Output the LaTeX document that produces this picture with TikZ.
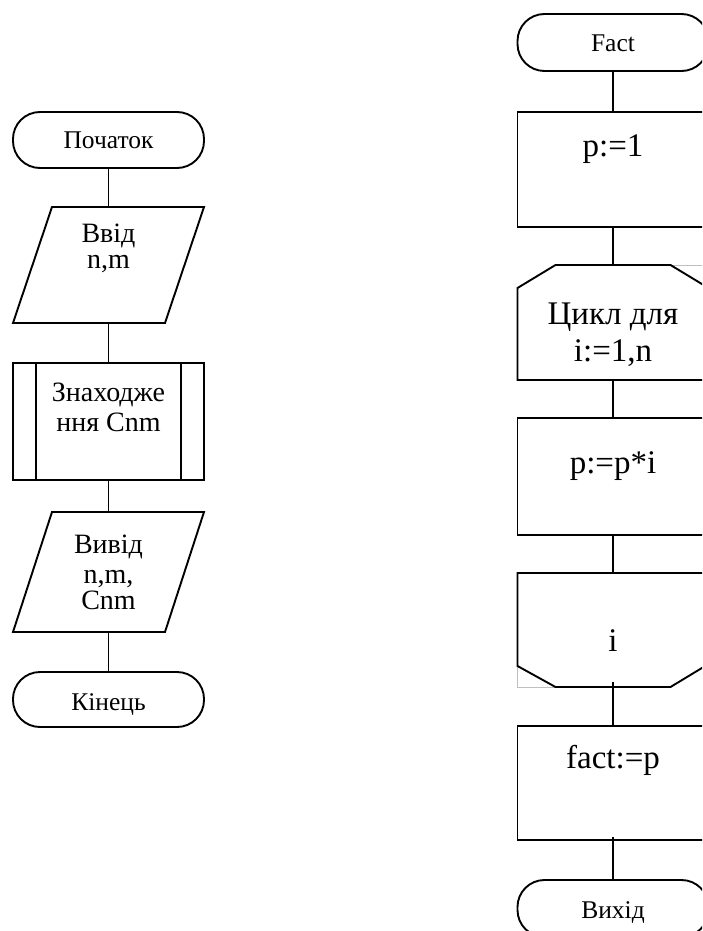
\documentclass[tikz,border=0pt]{standalone}
\usepackage{fontspec}
\setmainfont{Liberation Serif}

\begin{document}
\begin{tikzpicture}[x=1pt, y=-1pt, line width=1.9pt, line join=miter,
  frame/.style={rectangle, draw=none, inner sep=0pt, outer sep=0pt, minimum width=191pt},
  term/.style={frame, draw, rounded corners=27pt},
  lbl/.style={inner sep=0pt, anchor=base},
  tsmall/.style={lbl, font=\fontsize{25.5}{29}\selectfont},
  tmid/.style={lbl, font=\fontsize{28}{32}\selectfont},
  tbig/.style={lbl, font=\fontsize{33}{38}\selectfont},
  ghost/.style={draw=black!25, line width=1pt}
]
\useasboundingbox (0,0) rectangle (702,931);
\clip (0,0) rectangle (702,931);

% ---------------- main program ----------------
\node[term, minimum height=56pt] (start) at (108.5,140) {};
\node[frame, minimum height=116pt] (inp) at (108.5,265) {};
\node[frame, minimum height=117pt] (sub) at (108.5,421.5) {};
\node[frame, minimum height=120pt] (outp) at (108.5,572) {};
\node[term, minimum height=55pt] (stop) at (108.5,699.5) {};

% input / output parallelograms
\draw ([xshift=39pt]inp.north west) -- (inp.north east)
      -- ([xshift=-39pt]inp.south east) -- (inp.south west) -- cycle;
\draw ([xshift=39pt]outp.north west) -- (outp.north east)
      -- ([xshift=-39pt]outp.south east) -- (outp.south west) -- cycle;
% predefined process
\draw (sub.north west) rectangle (sub.south east);
\draw ([xshift=23pt]sub.north west) -- ([xshift=23pt]sub.south west);
\draw ([xshift=-23pt]sub.north east) -- ([xshift=-23pt]sub.south east);

\draw (start.south) -- (inp.north);
\draw (inp.south) -- (sub.north);
\draw (sub.south) -- (outp.north);
\draw (outp.south) -- (stop.north);

\node[tsmall] (tstart) at (108.5,148) {Початок};
\node[tmid] (tin1) at (108.5,242) {Ввід};
\node[tmid] (tin2) at (108.5,268) {n,m};
\node[tmid] (tsub1) at (108.5,401) {Знаходже};
\node[tmid] (tsub2) at (108.5,431) {ння Cnm};
\node[tmid] (tout1) at (108.5,553) {Вивід};
\node[tmid] (tout2) at (108.5,583) {n,m,};
\node[tmid] (tout3) at (108.5,609) {Cnm};
\node[tsmall] (tstop) at (108.5,710) {Кінець};

% ---------------- function Fact ----------------
\node[term, minimum height=57pt] (fact) at (613,42.5) {};
\node[frame, minimum height=115pt] (init) at (613,169.5) {};
\node[frame, minimum height=115pt] (lbeg) at (613,322.5) {};
\node[frame, minimum height=117pt] (body) at (613,476.5) {};
\node[frame, minimum height=114pt] (lend) at (613,630) {};
\node[frame, minimum height=114pt] (res) at (613,783) {};
\node[term, minimum height=57pt] (exit) at (613,908.5) {};

% faint outline corners of the loop blocks
\draw[ghost] ([xshift=-38pt]lbeg.north east) -- (lbeg.north east) -- ([yshift=-23pt]lbeg.north east);
\draw[ghost] ([yshift=21pt]lend.south west) -- (lend.south west) -- ([xshift=38pt]lend.south west);

\draw (init.north west) rectangle (init.south east);
\draw (body.north west) rectangle (body.south east);
\draw (res.north west) rectangle (res.south east);
% loop start: top corners cut
\draw ([xshift=38pt]lbeg.north west) -- ([xshift=-38pt]lbeg.north east)
      -- ([yshift=-23pt]lbeg.north east) -- (lbeg.south east)
      -- (lbeg.south west) -- ([yshift=-23pt]lbeg.north west) -- cycle;
% loop end: bottom corners cut
\draw (lend.north west) -- (lend.north east)
      -- ([yshift=23pt]lend.south east) -- ([xshift=-38pt]lend.south east)
      -- ([xshift=38pt]lend.south west) -- ([yshift=21pt]lend.south west) -- cycle;

\draw (fact.south) -- (init.north);
\draw (init.south) -- (lbeg.north);
\draw (lbeg.south) -- (body.north);
\draw (body.south) -- (lend.north);
\draw ([yshift=5pt]lend.south) -- (res.north);
\draw ([yshift=3pt]res.south) -- (exit.north);

\node[tsmall] (tfact) at (613,52) {Fact};
\node[tbig] (tinit) at (613,156) {p:=1};
\node[tbig] (tloop1) at (613,324) {Цикл для};
\node[tbig] (tloop2) at (613,361) {i:=1,n};
\node[tbig] (tbody) at (613,473) {p:=p*i};
\node[tbig] (tlend) at (613,651) {i};
\node[tbig] (tres) at (613,768) {fact:=p};
\node[tsmall] (texit) at (613,918) {Вихід};
\end{tikzpicture}
\end{document}
